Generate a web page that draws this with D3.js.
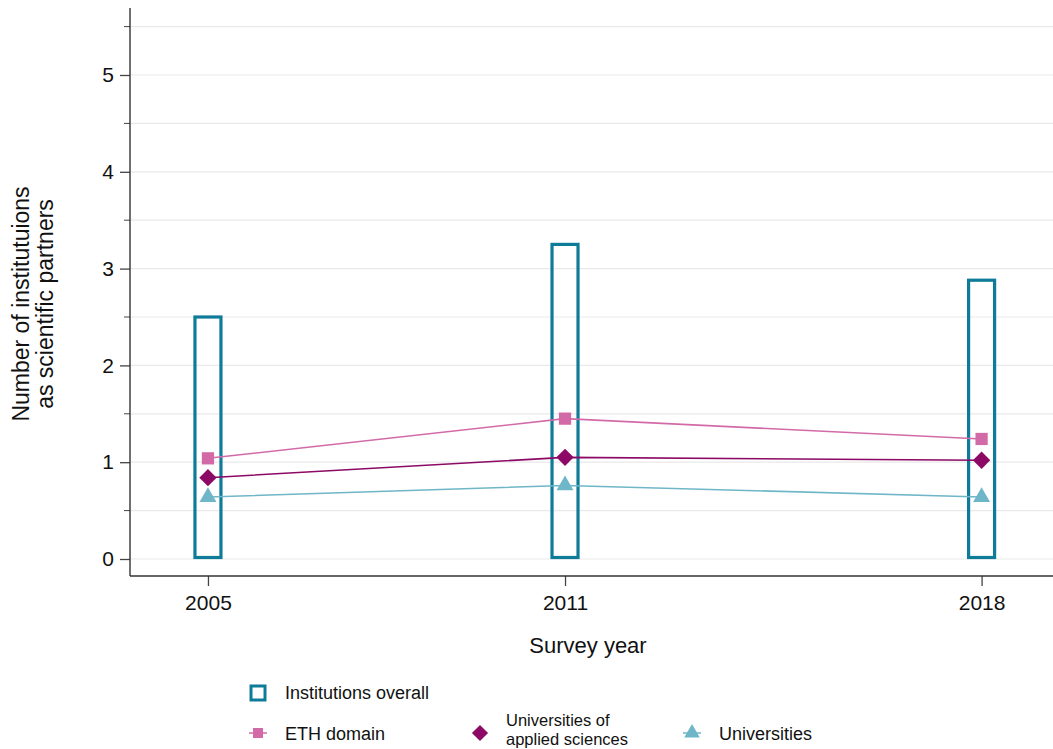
<!DOCTYPE html>
<html><head><meta charset="utf-8">
<script src="https://cdn.jsdelivr.net/npm/d3@7"></script>
<style>body{margin:0;background:#fff;font-family:"Liberation Sans",Arial,sans-serif;}</style>
</head><body><svg id="c" width="1053" height="749"></svg>
<script>
const years = [2005, 2011, 2018];
const overall = [2.5, 3.25, 2.88];
const eth = [1.04, 1.45, 1.24];
const uas = [0.84, 1.05, 1.02];
const unis = [0.64, 0.76, 0.64];
const yTicks = [0, 1, 2, 3, 4, 5];
const yMinor = [0.5, 1.5, 2.5, 3.5, 4.5, 5.5];

(function () {
const svg = d3.select("#c");
const mLeft = 130, mRight = 1053, mTop = 8, mBottom = 576;
const x = d3.scaleLinear().domain([2003.69, 2019.2]).range([mLeft, mRight]);
const y = d3.scaleLinear().domain([0, 5]).range([559, 75]);
const ff = "Liberation Sans, Arial, sans-serif";

const teal = "#0e7b98", pink = "#d36aa8", mag = "#8c0a65", lteal = "#6fb7c8";

// grid
const gridVals = yTicks.concat(yMinor);
svg.append("g").selectAll("line").data(gridVals).join("line")
  .attr("x1", mLeft).attr("x2", mRight).attr("y1", d => y(d)).attr("y2", d => y(d))
  .attr("stroke", "#e9e9e9").attr("stroke-width", 1.2);

// y axis
const ya = svg.append("g").attr("transform", `translate(${mLeft},0)`)
  .call(d3.axisLeft(y).tickValues(yTicks).tickSize(10).tickPadding(6).tickFormat(d3.format("d")));
ya.select(".domain").remove();
ya.selectAll("text").attr("font-size", 21).attr("fill", "#111").attr("font-family", ff);
ya.selectAll("line").attr("stroke", "#444").attr("stroke-width", 1.3);
svg.append("g").selectAll("line").data(yMinor).join("line")
  .attr("x1", mLeft - 6).attr("x2", mLeft).attr("y1", d => y(d)).attr("y2", d => y(d)).attr("stroke", "#444");
svg.append("line").attr("x1", mLeft).attr("x2", mLeft).attr("y1", mTop).attr("y2", mBottom).attr("stroke", "#333").attr("stroke-width", 1.4);

// x axis
const xa = svg.append("g").attr("transform", `translate(0,${mBottom})`)
  .call(d3.axisBottom(x).tickValues(years).tickSize(10).tickPadding(9).tickFormat(d3.format("d")));
xa.select(".domain").remove();
xa.selectAll("text").attr("font-size", 21).attr("fill", "#111").attr("font-family", ff);
xa.selectAll("line").attr("stroke", "#444").attr("stroke-width", 1.3);
svg.append("line").attr("x1", mLeft).attr("x2", mRight).attr("y1", mBottom).attr("y2", mBottom).attr("stroke", "#333").attr("stroke-width", 1.4);

svg.append("text").attr("x", 588).attr("y", 653).attr("text-anchor", "middle")
  .attr("font-size", 22).attr("fill", "#111").text("Survey year");

const yt = svg.append("text").attr("transform", "translate(29,304) rotate(-90)").attr("text-anchor", "middle")
  .attr("font-size", 23).attr("fill", "#111");
yt.append("tspan").attr("x", 0).attr("dy", 0).text("Number of institutuions");
yt.append("tspan").attr("x", 0).attr("dy", 24).text("as scientific partners");

// bars
const bw = 26;
svg.append("g").selectAll("rect").data(years).join("rect")
  .attr("x", (d) => x(d) - bw / 2).attr("width", bw)
  .attr("y", (d, i) => y(overall[i])).attr("height", (d, i) => y(0) - y(overall[i]) - 1.5)
  .attr("fill", "none").attr("stroke", teal).attr("stroke-width", 3.2);

// lines
const series = [
  {v: unis, c: lteal, sym: d3.symbolTriangle, size: 125, rot: 0},
  {v: uas, c: mag, sym: d3.symbolSquare, size: 150, rot: 45},
  {v: eth, c: pink, sym: d3.symbolSquare, size: 150, rot: 0},
];
const line = d3.line().x((d, i) => x(years[i])).y(d => y(d));
series.forEach(s => {
  svg.append("path").attr("d", line(s.v)).attr("fill", "none").attr("stroke", s.c).attr("stroke-width", 1.6);
  svg.append("g").selectAll("path").data(s.v).join("path")
    .attr("transform", (d, i) => `translate(${x(years[i])},${y(d)}) rotate(${s.rot})`)
    .attr("d", d3.symbol().type(s.sym).size(s.size)).attr("fill", s.c);
});

// legend
const lg = svg.append("g").attr("font-size", 18).attr("fill", "#111");
lg.append("rect").attr("x", 251).attr("y", 686).attr("width", 14).attr("height", 14)
  .attr("fill", "none").attr("stroke", teal).attr("stroke-width", 3);
lg.append("text").attr("x", 285).attr("y", 699).text("Institutions overall");

const legItems = [
  {x: 258, c: pink, sym: d3.symbolSquare, size: 100, rot: 0, line: true, label: ["ETH domain"]},
  {x: 480, c: mag, sym: d3.symbolSquare, size: 130, rot: 45, line: false, label: ["Universities of", "applied sciences"]},
  {x: 692, c: lteal, sym: d3.symbolTriangle, size: 105, rot: 0, line: true, label: ["Universities"]},
];
legItems.forEach(it => {
  if (it.line) lg.append("line").attr("x1", it.x - 9).attr("x2", it.x + 9).attr("y1", 733).attr("y2", 733).attr("stroke", it.c).attr("stroke-width", 1.5);
  lg.append("path").attr("transform", `translate(${it.x},733) rotate(${it.rot})`).attr("d", d3.symbol().type(it.sym).size(it.size)).attr("fill", it.c);
  if (it.label.length === 1) {
    lg.append("text").attr("x", it.x + 27).attr("y", 740).text(it.label[0]);
  } else {
    lg.append("text").attr("x", it.x + 26).attr("y", 726).attr("font-size", 16.5).text(it.label[0]);
    lg.append("text").attr("x", it.x + 26).attr("y", 745).attr("font-size", 16.5).text(it.label[1]);
  }
});
})();
</script></body></html>
